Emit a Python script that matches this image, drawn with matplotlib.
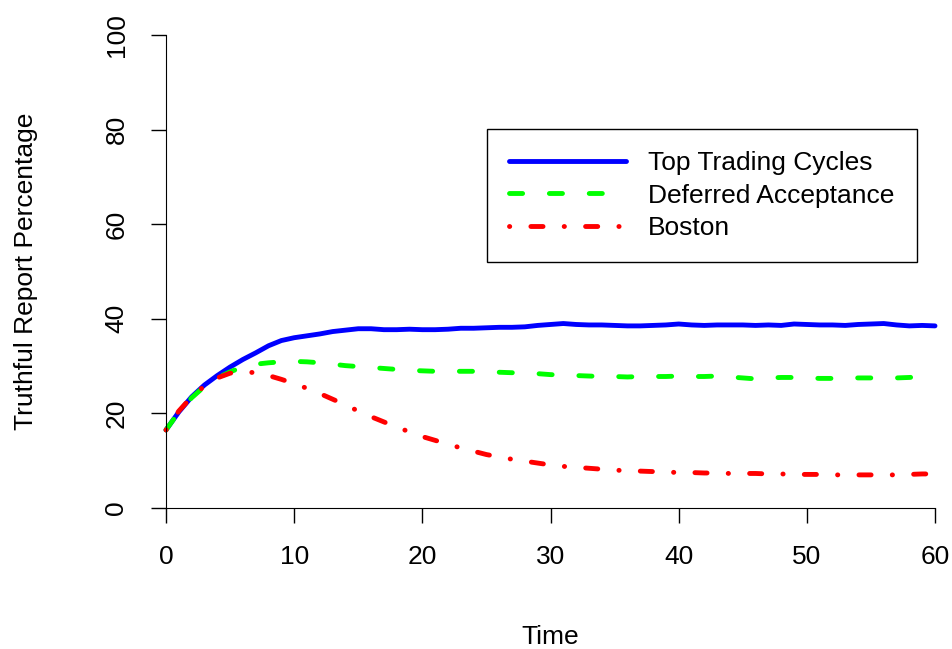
import numpy as np
import matplotlib.pyplot as plt

plt.rcParams['font.family'] = ['Liberation Sans', 'DejaVu Sans']

time = np.arange(0, 61)

# Truthful report percentage per period
ttc = [16.5, 20.3, 23.5, 26.0, 28.0, 29.8, 31.4, 32.8, 34.3, 35.4,
       36.0, 36.4, 36.8, 37.3, 37.6, 37.9, 37.9, 37.7, 37.7, 37.8,
       37.7, 37.7, 37.8, 38.0, 38.0, 38.1, 38.2, 38.2, 38.3, 38.6,
       38.8, 39.0, 38.8, 38.7, 38.7, 38.6, 38.5, 38.5, 38.6, 38.7,
       38.9, 38.7, 38.6, 38.7, 38.7, 38.7, 38.6, 38.7, 38.6, 38.9,
       38.8, 38.7, 38.7, 38.6, 38.8, 38.9, 39.0, 38.7, 38.5, 38.6,
       38.5]
da = [16.5, 20.3, 23.3, 25.7, 27.5, 28.8, 29.8, 30.4, 30.7, 30.9,
      31.0, 30.9, 30.7, 30.4, 30.1, 29.9, 29.7, 29.5, 29.3, 29.1,
      29.0, 28.9, 28.9, 28.9, 28.9, 28.8, 28.7, 28.6, 28.5, 28.4,
      28.2, 28.1, 28.0, 27.9, 27.8, 27.8, 27.7, 27.8, 27.8, 27.8,
      27.9, 27.8, 27.8, 27.9, 27.7, 27.5, 27.3, 27.5, 27.6, 27.6,
      27.5, 27.4, 27.4, 27.5, 27.5, 27.5, 27.4, 27.5, 27.6, 27.8,
      28.0]
boston = [16.5, 20.5, 23.5, 25.8, 27.5, 28.5, 28.8, 28.6, 28.0, 27.2,
          26.3, 25.3, 24.2, 23.0, 21.8, 20.5, 19.3, 18.2, 17.1, 16.1,
          15.1, 14.3, 13.5, 12.7, 12.0, 11.3, 10.8, 10.3, 9.9, 9.5,
          9.1, 8.8, 8.6, 8.4, 8.2, 8.0, 7.9, 7.8, 7.7, 7.6,
          7.5, 7.5, 7.4, 7.4, 7.3, 7.3, 7.3, 7.2, 7.2, 7.1,
          7.1, 7.1, 7.0, 7.0, 7.0, 7.0, 7.0, 7.0, 7.1, 7.2,
          7.2]
labels = ['Top Trading Cycles', 'Deferred Acceptance', 'Boston']

fs = 19
lw = 3.5

fig = plt.figure(figsize=(9.52, 6.49), dpi=100)
ax = fig.add_axes([166 / 952, 1 - 508 / 649, 769 / 952, 473 / 649])

ax.plot(time, ttc, color='#0000FF', lw=lw, solid_capstyle='round',
        clip_on=False, label=labels[0])
ax.plot(time, da, color='#00FF00', lw=lw, dashes=(2.7, 5.5),
        dash_capstyle='round', clip_on=False, label=labels[1])
ax.plot(time, boston, color='#FF0000', lw=lw, dashes=(0.05, 4.35, 2.5, 4.35),
        dash_capstyle='round', clip_on=False, label=labels[2])

ax.set_xlim(0, 60)
ax.set_ylim(0, 100)
ax.set_xticks(range(0, 61, 10))
ax.set_yticks(range(0, 101, 20))
for s in ['top', 'right']:
    ax.spines[s].set_visible(False)
ax.tick_params(length=11, width=1, labelsize=fs)
ax.tick_params(axis='x', pad=16)
ax.tick_params(axis='y', pad=16)
plt.setp(ax.get_yticklabels(), rotation=90, va='center')

ax.set_xlabel('Time', fontsize=fs, labelpad=40)
ax.set_ylabel('Truthful Report Percentage', fontsize=fs, labelpad=48)

leg = ax.legend(loc='upper left', bbox_to_anchor=((487 - 166) / 769, (508 - 129) / 473),
                borderaxespad=0, fontsize=fs, handlelength=4.4, handletextpad=0.85,
                labelspacing=0.31, borderpad=0.85, fancybox=False, framealpha=1,
                edgecolor='black')
leg.get_frame().set_linewidth(1)

fig.savefig('out.png', dpi=100)
